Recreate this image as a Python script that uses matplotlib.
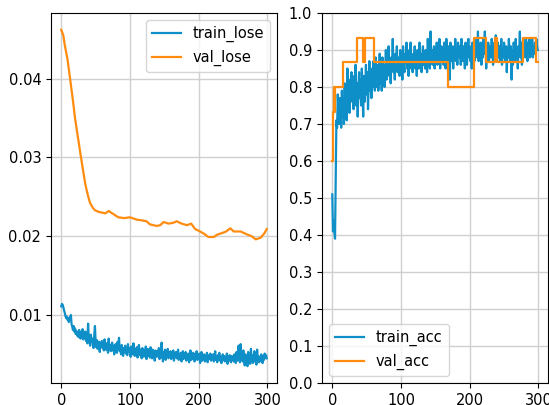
import numpy as np
import matplotlib.pyplot as plt

epochs = np.arange(300)

train_lose = [
    0.0111, 0.0114, 0.0113, 0.0110, 0.0106, 0.0103, 0.0099, 0.0096, 0.0098, 0.0094,
    0.0095, 0.0091, 0.0097, 0.0094, 0.0100, 0.0088, 0.0085, 0.0081, 0.0086, 0.0079,
    0.0083, 0.0076, 0.0080, 0.0074, 0.0078, 0.0072, 0.0081, 0.0075, 0.0070, 0.0078,
    0.0073, 0.0082, 0.0069, 0.0076, 0.0071, 0.0079, 0.0067, 0.0074, 0.0064, 0.0089,
    0.0072, 0.0068, 0.0061, 0.0075, 0.0066, 0.0070, 0.0063, 0.0058, 0.0074, 0.0086,
    0.0065, 0.0059, 0.0068, 0.0057, 0.0062, 0.0066, 0.0053, 0.0064, 0.0060, 0.0067,
    0.0058, 0.0063, 0.0055, 0.0069, 0.0061, 0.0056, 0.0064, 0.0059, 0.0052, 0.0070,
    0.0057, 0.0062, 0.0054, 0.0060, 0.0065, 0.0055, 0.0061, 0.0050, 0.0058, 0.0063,
    0.0056, 0.0052, 0.0066, 0.0057, 0.0071, 0.0054, 0.0059, 0.0050, 0.0062, 0.0055,
    0.0048, 0.0058, 0.0053, 0.0061, 0.0051, 0.0056, 0.0049, 0.0063, 0.0054, 0.0058,
    0.0052, 0.0047, 0.0060, 0.0055, 0.0050, 0.0064, 0.0053, 0.0048, 0.0057, 0.0051,
    0.0059, 0.0046, 0.0054, 0.0062, 0.0049, 0.0056, 0.0051, 0.0045, 0.0058, 0.0053,
    0.0047, 0.0055, 0.0050, 0.0060, 0.0044, 0.0052, 0.0057, 0.0048, 0.0054, 0.0046,
    0.0059, 0.0051, 0.0045, 0.0056, 0.0049, 0.0053, 0.0042, 0.0055, 0.0050, 0.0047,
    0.0054, 0.0048, 0.0058, 0.0044, 0.0052, 0.0046, 0.0065, 0.0050, 0.0041, 0.0053,
    0.0047, 0.0056, 0.0043, 0.0051, 0.0049, 0.0057, 0.0045, 0.0052, 0.0048, 0.0054,
    0.0044, 0.0050, 0.0046, 0.0055, 0.0042, 0.0051, 0.0047, 0.0053, 0.0045, 0.0049,
    0.0056, 0.0043, 0.0050, 0.0046, 0.0052, 0.0041, 0.0048, 0.0054, 0.0044, 0.0050,
    0.0046, 0.0053, 0.0042, 0.0049, 0.0045, 0.0051, 0.0040, 0.0047, 0.0055, 0.0043,
    0.0049, 0.0044, 0.0052, 0.0046, 0.0041, 0.0050, 0.0045, 0.0054, 0.0043, 0.0048,
    0.0044, 0.0051, 0.0039, 0.0047, 0.0053, 0.0042, 0.0048, 0.0045, 0.0050, 0.0041,
    0.0047, 0.0043, 0.0052, 0.0040, 0.0046, 0.0049, 0.0044, 0.0051, 0.0042, 0.0048,
    0.0045, 0.0050, 0.0041, 0.0047, 0.0054, 0.0043, 0.0046, 0.0040, 0.0049, 0.0044,
    0.0052, 0.0042, 0.0047, 0.0039, 0.0045, 0.0050, 0.0043, 0.0048, 0.0041, 0.0046,
    0.0044, 0.0051, 0.0038, 0.0047, 0.0042, 0.0049, 0.0045, 0.0040, 0.0048, 0.0043,
    0.0047, 0.0041, 0.0050, 0.0044, 0.0039, 0.0053, 0.0042, 0.0046, 0.0061, 0.0045,
    0.0040, 0.0063, 0.0043, 0.0048, 0.0041, 0.0055, 0.0044, 0.0036, 0.0050, 0.0042,
    0.0047, 0.0035, 0.0053, 0.0040, 0.0046, 0.0038, 0.0057, 0.0042, 0.0049, 0.0039,
    0.0045, 0.0054, 0.0041, 0.0047, 0.0037, 0.0056, 0.0043, 0.0048, 0.0040, 0.0046,
    0.0042, 0.0050, 0.0044, 0.0039, 0.0048, 0.0043, 0.0051, 0.0046, 0.0049, 0.0045,
]

# val loss, read at selected epochs
val_lose_epochs = [0, 3, 5, 9, 13, 17, 20, 24, 28, 32, 35, 39, 42, 46, 49, 54, 59, 64, 69,
                   76, 83, 92, 100, 110, 118, 124, 129, 139, 144, 149, 156, 163, 168, 175,
                   183, 189, 195, 202, 208, 214, 222, 227, 234, 240, 246, 251, 261, 271,
                   277, 283, 290, 295, 299]
val_lose = [0.0462, 0.0455, 0.0443, 0.0425, 0.0399, 0.0372, 0.0350, 0.0327, 0.0304, 0.0282,
            0.0266, 0.0251, 0.0242, 0.0236, 0.0233, 0.0231, 0.0230, 0.0229, 0.0232,
            0.0228, 0.0224, 0.0223, 0.0224, 0.0221, 0.0220, 0.0219, 0.0215, 0.0213, 0.0214,
            0.0218, 0.0216, 0.0217, 0.0219, 0.0216, 0.0214, 0.0216, 0.0209, 0.0206, 0.0203,
            0.0199, 0.0199, 0.0202, 0.0204, 0.0206, 0.0210, 0.0206, 0.0206, 0.0202,
            0.0200, 0.0196, 0.0198, 0.0203, 0.0209]

train_acc = [
    0.51, 0.41, 0.44, 0.41, 0.39, 0.55, 0.71, 0.69, 0.78, 0.73,
    0.70, 0.77, 0.74, 0.69, 0.79, 0.72, 0.76, 0.70, 0.81, 0.74,
    0.78, 0.71, 0.85, 0.75, 0.80, 0.73, 0.82, 0.77, 0.84, 0.76,
    0.80, 0.74, 0.83, 0.78, 0.86, 0.75, 0.81, 0.72, 0.79, 0.84,
    0.77, 0.82, 0.75, 0.85, 0.79, 0.72, 0.83, 0.76, 0.80, 0.86,
    0.78, 0.84, 0.74, 0.81, 0.87, 0.79, 0.83, 0.77, 0.85, 0.80,
    0.87, 0.82, 0.79, 0.88, 0.84, 0.80, 0.86, 0.79, 0.83, 0.89,
    0.81, 0.85, 0.79, 0.88, 0.83, 0.86, 0.80, 0.84, 0.90, 0.82,
    0.87, 0.84, 0.91, 0.83, 0.86, 0.81, 0.88, 0.85, 0.93, 0.84,
    0.87, 0.82, 0.89, 0.85, 0.91, 0.84, 0.86, 0.88, 0.83, 0.90,
    0.85, 0.88, 0.82, 0.91, 0.86, 0.84, 0.89, 0.87, 0.92, 0.85,
    0.88, 0.83, 0.90, 0.86, 0.92, 0.85, 0.87, 0.84, 0.89, 0.86,
    0.91, 0.85, 0.88, 0.83, 0.90, 0.87, 0.85, 0.92, 0.86, 0.89,
    0.84, 0.88, 0.91, 0.86, 0.89, 0.85, 0.90, 0.87, 0.84, 0.93,
    0.86, 0.89, 0.85, 0.95, 0.87, 0.90, 0.86, 0.88, 0.91, 0.85,
    0.89, 0.87, 0.92, 0.86, 0.90, 0.88, 0.93, 0.85, 0.89, 0.91,
    0.87, 0.90, 0.86, 0.92, 0.88, 0.85, 0.93, 0.89, 0.87, 0.91,
    0.88, 0.82, 0.92, 0.89, 0.87, 0.91, 0.85, 0.90, 0.88, 0.93,
    0.87, 0.90, 0.86, 0.92, 0.89, 0.88, 0.91, 0.86, 0.93, 0.89,
    0.87, 0.91, 0.88, 0.85, 0.92, 0.89, 0.86, 0.90, 0.93, 0.88,
    0.91, 0.87, 0.89, 0.85, 0.92, 0.88, 0.90, 0.87, 0.93, 0.89,
    0.91, 0.88, 0.95, 0.87, 0.90, 0.89, 0.92, 0.86, 0.91, 0.88,
    0.93, 0.89, 0.95, 0.91, 0.85, 0.90, 0.88, 0.92, 0.87, 0.89,
    0.91, 0.88, 0.93, 0.90, 0.86, 0.89, 0.92, 0.88, 0.94, 0.87,
    0.90, 0.92, 0.88, 0.91, 0.87, 0.89, 0.93, 0.86, 0.90, 0.88,
    0.92, 0.89, 0.87, 0.91, 0.84, 0.90, 0.88, 0.93, 0.89, 0.87,
    0.91, 0.82, 0.90, 0.86, 0.92, 0.89, 0.87, 0.93, 0.88, 0.90,
    0.85, 0.91, 0.89, 0.95, 0.88, 0.92, 0.86, 0.90, 0.93, 0.89,
    0.91, 0.88, 0.93, 0.90, 0.87, 0.92, 0.89, 0.93, 0.88, 0.91,
    0.90, 0.93, 0.88, 0.91, 0.89, 0.92, 0.90, 0.93, 0.91, 0.90,
]

# val acc changes value only at these epochs (step plot)
val_acc_epochs = [0, 1, 2, 3, 4, 16, 36, 45, 48, 60, 169, 206, 224, 237, 240, 277, 296, 299]
val_acc = [0.600, 0.733, 0.800, 0.733, 0.800, 0.867, 0.933, 0.867, 0.933, 0.867,
           0.800, 0.933, 0.867, 0.933, 0.867, 0.933, 0.867, 0.867]

blue = '#0e8fc8'
orange = '#ff8c0e'
fs = 10.5

fig = plt.figure(figsize=(5.49, 4.05), dpi=100)
ax1 = fig.add_axes([51/549, 1-383/405, 226/549, 370/405])
ax2 = fig.add_axes([322/549, 1-383/405, 226/549, 370/405])

ax1.plot(epochs, train_lose, color=blue, lw=1.6, label='train_lose')
ax1.plot(val_lose_epochs, val_lose, color=orange, lw=1.6, label='val_lose')
ax1.grid(True, color='#d0d0d0', lw=1.0)
ax1.legend(loc='upper right', fontsize=fs)
ax1.tick_params(labelsize=fs)

ax2.plot(epochs, train_acc, color=blue, lw=1.6, label='train_acc')
ax2.plot(val_acc_epochs, val_acc, color=orange, lw=1.6, drawstyle='steps-post', label='val_acc')
ax2.set_ylim(0, 1)
ax2.set_yticks(np.arange(0, 1.01, 0.1))
ax2.grid(True, color='#d0d0d0', lw=1.0)
ax2.legend(loc='lower left', fontsize=fs)
ax2.tick_params(labelsize=fs)

fig.savefig('out.png', dpi=100)
